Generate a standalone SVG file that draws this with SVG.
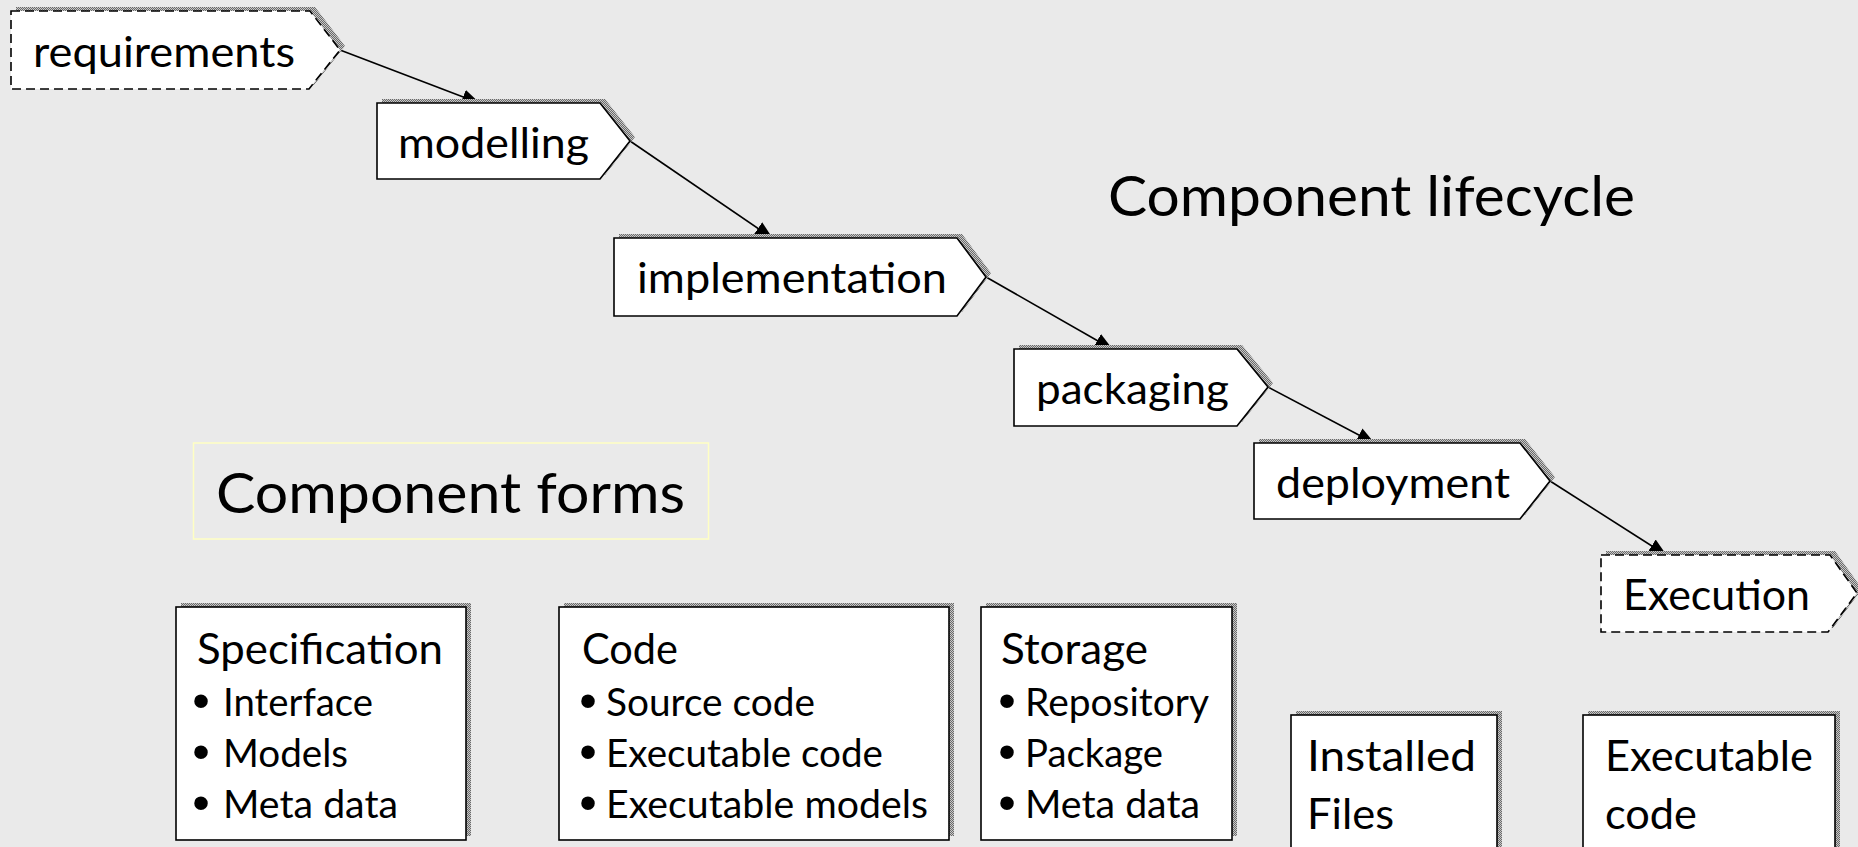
<svg xmlns="http://www.w3.org/2000/svg" width="1858" height="847" viewBox="0 0 1858 847">
<defs>
<pattern id="hatch" width="2" height="2" patternUnits="userSpaceOnUse">
<rect width="2" height="2" fill="#c8c8c8"/>
<rect width="1" height="1" fill="#6a6a6a"/>
<rect x="1" y="1" width="1" height="1" fill="#6a6a6a"/>
</pattern>
<marker id="arr" markerWidth="18" markerHeight="15" refX="17" refY="7.5" orient="auto" markerUnits="userSpaceOnUse">
<path d="M0,0 L18,7.5 L0,15 z" fill="#000"/>
</marker>
</defs>
<style>
.t{font-family:Lato,'Open Sans','Liberation Sans',sans-serif;fill:#000}
.n{font-size:43px}
.i{font-size:38px}
.h{font-size:57px}
.b{font-family:'Liberation Sans',Arial,sans-serif;font-size:50px;text-anchor:middle;fill:#000}
.box{fill:#fff;stroke:#000;stroke-width:1.6}
.dash{stroke-dasharray:9 5}
.sh{fill:url(#hatch)}
.c{fill:none;stroke:#000;stroke-width:1.6;marker-end:url(#arr)}
</style>
<rect width="1858" height="847" fill="#eaeaea"/>

<g id="title-lifecycle">
<text class="t h" x="1108" y="216" textLength="527" lengthAdjust="spacingAndGlyphs">Component lifecycle</text>
</g>

<g id="title-forms">
<rect x="193.5" y="443" width="515" height="96" fill="none" stroke="#ffffc4" stroke-width="1.5"/>
<text class="t h" x="216" y="513" textLength="469" lengthAdjust="spacingAndGlyphs">Component forms</text>
</g>

<g id="connectors">
<line class="c" x1="340" y1="50" x2="479" y2="103"/>
<line class="c" x1="630" y1="141" x2="772" y2="238"/>
<line class="c" x1="986" y1="277" x2="1112" y2="349"/>
<line class="c" x1="1268" y1="387" x2="1374" y2="443"/>
<line class="c" x1="1550" y1="481" x2="1666" y2="555"/>
</g>

<g id="requirements">
<polygon class="sh" transform="translate(5,-4)" points="11,11 310,11 340,50 309,89 11,89"/>
<polygon class="box dash" points="11,11 310,11 340,50 309,89 11,89"/>
<text class="t n" x="33" y="67" textLength="262" lengthAdjust="spacingAndGlyphs">requirements</text>
</g>

<g id="modelling">
<polygon class="sh" transform="translate(5,-4)" points="377,103 600,103 630,141 600,179 377,179"/>
<polygon class="box" points="377,103 600,103 630,141 600,179 377,179"/>
<text class="t n" x="398" y="158" textLength="191" lengthAdjust="spacingAndGlyphs">modelling</text>
</g>

<g id="implementation">
<polygon class="sh" transform="translate(5,-4)" points="614,238 957,238 986,277 957,316 614,316"/>
<polygon class="box" points="614,238 957,238 986,277 957,316 614,316"/>
<text class="t n" x="637" y="293" textLength="310" lengthAdjust="spacingAndGlyphs">implementation</text>
</g>

<g id="packaging">
<polygon class="sh" transform="translate(5,-4)" points="1014,349 1237,349 1268,387 1237,426 1014,426"/>
<polygon class="box" points="1014,349 1237,349 1268,387 1237,426 1014,426"/>
<text class="t n" x="1036" y="404" textLength="193" lengthAdjust="spacingAndGlyphs">packaging</text>
</g>

<g id="deployment">
<polygon class="sh" transform="translate(5,-4)" points="1254,443 1520,443 1550,481 1520,519 1254,519"/>
<polygon class="box" points="1254,443 1520,443 1550,481 1520,519 1254,519"/>
<text class="t n" x="1276" y="498" textLength="234" lengthAdjust="spacingAndGlyphs">deployment</text>
</g>

<g id="execution">
<polygon class="sh" transform="translate(5,-4)" points="1601,555 1830,555 1857,593 1828,632 1601,632"/>
<polygon class="box dash" points="1601,555 1830,555 1857,593 1828,632 1601,632"/>
<text class="t n" x="1623" y="610" textLength="187" lengthAdjust="spacingAndGlyphs">Execution</text>
</g>

<g id="specification">
<rect class="sh" x="181" y="603" width="290" height="233"/>
<rect class="box" x="176" y="607" width="290" height="233"/>
<text class="t n" x="197" y="664" textLength="246" lengthAdjust="spacingAndGlyphs">Specification</text>
<text class="b" x="201" y="718">•</text>
<text class="t i" x="223" y="716" textLength="150" lengthAdjust="spacingAndGlyphs">Interface</text>
<text class="b" x="201" y="769">•</text>
<text class="t i" x="223" y="767" textLength="125" lengthAdjust="spacingAndGlyphs">Models</text>
<text class="b" x="201" y="820">•</text>
<text class="t i" x="223" y="818" textLength="175" lengthAdjust="spacingAndGlyphs">Meta data</text>
</g>

<g id="code">
<rect class="sh" x="564" y="603" width="390" height="233"/>
<rect class="box" x="559" y="607" width="390" height="233"/>
<text class="t n" x="582" y="664" textLength="96" lengthAdjust="spacingAndGlyphs">Code</text>
<text class="b" x="588" y="718">•</text>
<text class="t i" x="606" y="716" textLength="209" lengthAdjust="spacingAndGlyphs">Source code</text>
<text class="b" x="588" y="769">•</text>
<text class="t i" x="606" y="767" textLength="277" lengthAdjust="spacingAndGlyphs">Executable code</text>
<text class="b" x="588" y="820">•</text>
<text class="t i" x="606" y="818" textLength="322" lengthAdjust="spacingAndGlyphs">Executable models</text>
</g>

<g id="storage">
<rect class="sh" x="986" y="603" width="251" height="233"/>
<rect class="box" x="981" y="607" width="251" height="233"/>
<text class="t n" x="1001" y="664" textLength="147" lengthAdjust="spacingAndGlyphs">Storage</text>
<text class="b" x="1007" y="718">•</text>
<text class="t i" x="1025" y="716" textLength="184" lengthAdjust="spacingAndGlyphs">Repository</text>
<text class="b" x="1007" y="769">•</text>
<text class="t i" x="1025" y="767" textLength="138" lengthAdjust="spacingAndGlyphs">Package</text>
<text class="b" x="1007" y="820">•</text>
<text class="t i" x="1025" y="818" textLength="175" lengthAdjust="spacingAndGlyphs">Meta data</text>
</g>

<g id="installed-files">
<rect class="sh" x="1296" y="711" width="206" height="150"/>
<rect class="box" x="1291" y="715" width="206" height="150"/>
<text class="t n" x="1307" y="771" textLength="169" lengthAdjust="spacingAndGlyphs">Installed</text>
<text class="t n" x="1307" y="829" textLength="87" lengthAdjust="spacingAndGlyphs">Files</text>
</g>

<g id="executable-code">
<rect class="sh" x="1588" y="711" width="252" height="150"/>
<rect class="box" x="1583" y="715" width="252" height="150"/>
<text class="t n" x="1605" y="771" textLength="208" lengthAdjust="spacingAndGlyphs">Executable</text>
<text class="t n" x="1605" y="829" textLength="92" lengthAdjust="spacingAndGlyphs">code</text>
</g>
</svg>
